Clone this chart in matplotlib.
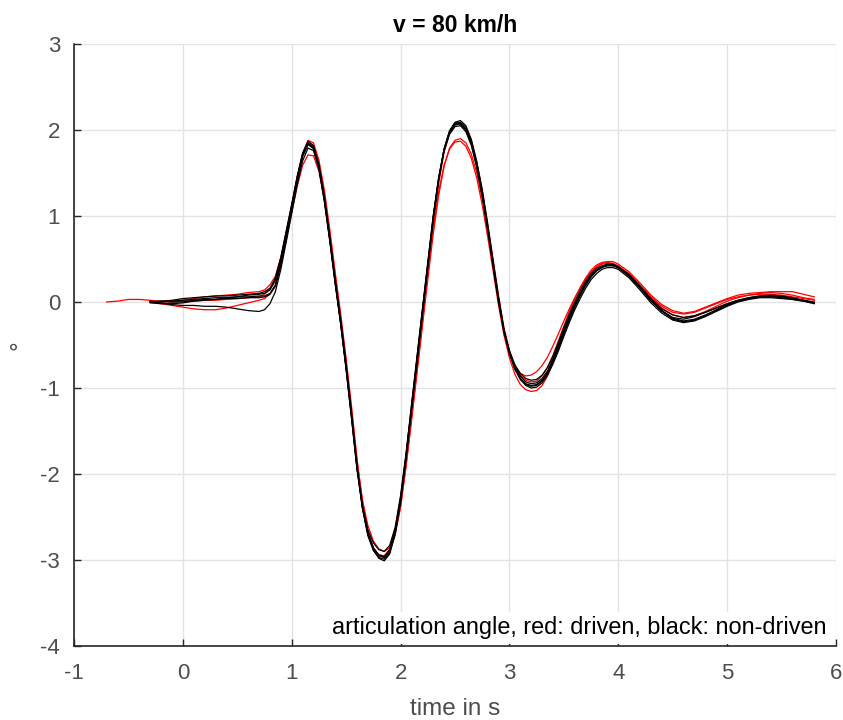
import numpy as np
import matplotlib
matplotlib.use("Agg")
import matplotlib.pyplot as plt

plt.rcParams['font.family'] = ['Liberation Sans', 'DejaVu Sans']

N = np.nan
time_s = [-0.7, -0.6, -0.5, -0.4, -0.3, -0.2, -0.1, 0.0, 0.1, 0.2, 0.3, 0.4, 0.5, 0.6, 0.7,
          0.75, 0.80, 0.85, 0.90, 0.95, 1.00, 1.05, 1.10, 1.15, 1.20, 1.25, 1.30, 1.35, 1.40, 1.45,
          1.50, 1.55, 1.60, 1.65, 1.70, 1.75, 1.80, 1.85, 1.90, 1.95, 2.00, 2.05, 2.10, 2.15, 2.20,
          2.25, 2.30, 2.35, 2.40, 2.45, 2.50, 2.55, 2.60, 2.65, 2.70, 2.75, 2.80, 2.85, 2.90, 2.95,
          3.00, 3.05, 3.10, 3.15, 3.20, 3.25, 3.30, 3.35, 3.40, 3.45, 3.50, 3.55, 3.60, 3.65, 3.70,
          3.75, 3.80, 3.85, 3.90, 3.95, 4.00,
          4.1, 4.2, 4.3, 4.4, 4.5, 4.6, 4.7, 4.8, 4.9, 5.0, 5.1, 5.2, 5.3, 5.4, 5.5, 5.6, 5.7, 5.8]

# non-driven (black)
black_1 = [N, N, N, N, 0.00, 0.00, 0.01, 0.02, 0.03, 0.04, 0.05, 0.05, 0.06, 0.06, 0.07,
           0.07, 0.10, 0.20, 0.45, 0.77, 1.10, 1.43, 1.70, 1.84, 1.78, 1.55, 1.17, 0.70, 0.20, -0.25,
           -0.78, -1.35, -1.95, -2.40, -2.70, -2.86, -2.95, -2.97, -2.88, -2.65, -2.28, -1.78, -1.20, -0.65, -0.10,
           0.45, 1.00, 1.45, 1.78, 1.98, 2.07, 2.08, 2.01, 1.85, 1.58, 1.25, 0.85, 0.42, 0.00, -0.35,
           -0.58, -0.75, -0.86, -0.93, -0.95, -0.94, -0.89, -0.80, -0.66, -0.50, -0.33, -0.17, -0.03, 0.10, 0.22,
           0.31, 0.37, 0.41, 0.43, 0.43, 0.40,
           0.30, 0.16, 0.01, -0.10, -0.18, -0.20, -0.17, -0.12, -0.07, -0.02, 0.02, 0.05, 0.07, 0.07, 0.06, 0.04, 0.02, 0.00]
black_2 = [N, N, N, N, -0.01, -0.02, -0.02, -0.01, 0.01, 0.02, 0.03, 0.05, 0.06, 0.08, 0.09,
           0.10, 0.14, 0.25, 0.50, 0.80, 1.12, 1.45, 1.73, 1.87, 1.82, 1.60, 1.23, 0.76, 0.26, -0.20,
           -0.72, -1.30, -1.90, -2.38, -2.70, -2.88, -2.98, -3.01, -2.93, -2.70, -2.33, -1.83, -1.27, -0.72, -0.16,
           0.40, 0.96, 1.42, 1.77, 1.99, 2.09, 2.11, 2.05, 1.89, 1.63, 1.30, 0.90, 0.47, 0.05, -0.32,
           -0.58, -0.77, -0.89, -0.96, -0.98, -0.97, -0.92, -0.83, -0.70, -0.54, -0.37, -0.21, -0.06, 0.07, 0.19,
           0.29, 0.36, 0.40, 0.42, 0.42, 0.40,
           0.31, 0.18, 0.03, -0.10, -0.20, -0.23, -0.21, -0.16, -0.10, -0.04, 0.01, 0.04, 0.06, 0.07, 0.06, 0.04, 0.02, -0.01]
black_3 = [N, N, N, N, 0.01, -0.01, -0.03, -0.04, -0.04, -0.05, -0.05, -0.06, -0.08, -0.10, -0.11,
           -0.09, -0.02, 0.12, 0.38, 0.70, 1.03, 1.36, 1.64, 1.79, 1.76, 1.55, 1.18, 0.72, 0.22, -0.26,
           -0.79, -1.36, -1.94, -2.37, -2.65, -2.80, -2.88, -2.90, -2.83, -2.62, -2.25, -1.76, -1.21, -0.65, -0.09,
           0.46, 1.00, 1.44, 1.76, 1.95, 2.04, 2.05, 1.98, 1.82, 1.56, 1.23, 0.84, 0.42, 0.01, -0.34,
           -0.57, -0.73, -0.83, -0.89, -0.91, -0.90, -0.85, -0.76, -0.63, -0.47, -0.30, -0.14, 0.00, 0.13, 0.24,
           0.33, 0.39, 0.42, 0.44, 0.44, 0.41,
           0.32, 0.18, 0.04, -0.08, -0.15, -0.18, -0.16, -0.12, -0.07, -0.02, 0.02, 0.05, 0.07, 0.08, 0.07, 0.05, 0.02, -0.01]
black_4 = [N, N, N, N, 0.00, 0.01, 0.02, 0.04, 0.05, 0.06, 0.07, 0.07, 0.08, 0.09, 0.10,
           0.12, 0.16, 0.28, 0.52, 0.83, 1.14, 1.46, 1.72, 1.85, 1.80, 1.58, 1.21, 0.74, 0.24, -0.23,
           -0.75, -1.32, -1.92, -2.39, -2.69, -2.86, -2.94, -2.96, -2.88, -2.66, -2.30, -1.80, -1.24, -0.68, -0.12,
           0.43, 0.98, 1.43, 1.77, 1.97, 2.06, 2.07, 2.00, 1.84, 1.59, 1.27, 0.88, 0.46, 0.04, -0.33,
           -0.59, -0.78, -0.90, -0.97, -1.00, -0.99, -0.94, -0.85, -0.72, -0.57, -0.40, -0.24, -0.09, 0.04, 0.16,
           0.26, 0.33, 0.38, 0.40, 0.40, 0.38,
           0.28, 0.14, -0.01, -0.13, -0.21, -0.24, -0.22, -0.17, -0.11, -0.05, 0.00, 0.03, 0.05, 0.05, 0.04, 0.03, 0.01, -0.02]
black_5 = [N, N, N, N, 0.00, 0.01, 0.00, 0.00, 0.02, 0.03, 0.03, 0.04, 0.04, 0.05, 0.05,
           0.06, 0.09, 0.19, 0.44, 0.76, 1.08, 1.41, 1.69, 1.83, 1.79, 1.57, 1.20, 0.73, 0.23, -0.24,
           -0.77, -1.34, -1.93, -2.40, -2.72, -2.89, -2.97, -2.99, -2.91, -2.69, -2.31, -1.81, -1.25, -0.69, -0.13,
           0.42, 0.97, 1.43, 1.78, 1.99, 2.08, 2.09, 2.03, 1.87, 1.61, 1.28, 0.88, 0.45, 0.03, -0.34,
           -0.60, -0.78, -0.89, -0.95, -0.97, -0.96, -0.91, -0.82, -0.68, -0.52, -0.35, -0.19, -0.04, 0.09, 0.21,
           0.30, 0.37, 0.41, 0.43, 0.43, 0.40,
           0.30, 0.17, 0.02, -0.11, -0.19, -0.22, -0.20, -0.15, -0.09, -0.03, 0.01, 0.04, 0.06, 0.06, 0.05, 0.03, 0.01, -0.01]

# driven (red)
red_1 = [0.00, 0.01, 0.03, 0.03, 0.02, 0.01, 0.01, 0.02, 0.04, 0.06, 0.07, 0.08, 0.09, 0.11, 0.12,
         0.14, 0.20, 0.30, 0.52, 0.82, 1.12, 1.45, 1.73, 1.88, 1.85, 1.65, 1.30, 0.84, 0.34, -0.14,
         -0.66, -1.22, -1.82, -2.33, -2.67, -2.86, -2.95, -2.97, -2.91, -2.71, -2.38, -1.90, -1.36, -0.80, -0.24,
         0.33, 0.89, 1.37, 1.74, 1.96, 2.06, 2.07, 2.02, 1.88, 1.63, 1.31, 0.92, 0.50, 0.08, -0.30,
         -0.56, -0.74, -0.85, -0.91, -0.93, -0.92, -0.86, -0.76, -0.62, -0.45, -0.28, -0.11, 0.04, 0.17, 0.28,
         0.37, 0.43, 0.46, 0.47, 0.47, 0.44,
         0.35, 0.22, 0.08, -0.03, -0.10, -0.13, -0.11, -0.06, -0.01, 0.04, 0.08, 0.10, 0.11, 0.12, 0.12, 0.12, 0.09, 0.06]
red_2 = [N, N, N, N, 0.00, -0.02, -0.04, -0.06, -0.08, -0.09, -0.09, -0.07, -0.04, -0.01, 0.02,
         0.04, 0.09, 0.18, 0.42, 0.73, 1.04, 1.34, 1.59, 1.71, 1.70, 1.52, 1.18, 0.73, 0.24, -0.25,
         -0.76, -1.30, -1.86, -2.30, -2.60, -2.78, -2.87, -2.90, -2.86, -2.70, -2.38, -1.92, -1.39, -0.84, -0.29,
         0.26, 0.79, 1.24, 1.58, 1.79, 1.88, 1.90, 1.85, 1.72, 1.50, 1.20, 0.83, 0.42, 0.00, -0.38,
         -0.65, -0.84, -0.96, -1.02, -1.04, -1.03, -0.97, -0.86, -0.71, -0.53, -0.34, -0.16, 0.00, 0.14, 0.26,
         0.35, 0.41, 0.45, 0.46, 0.45, 0.42,
         0.33, 0.20, 0.06, -0.05, -0.12, -0.14, -0.12, -0.07, -0.02, 0.03, 0.06, 0.08, 0.09, 0.09, 0.08, 0.06, 0.04, 0.02]
red_3 = [N, N, N, N, 0.00, 0.00, 0.00, 0.01, 0.01, 0.02, 0.02, 0.03, 0.04, 0.05, 0.06,
         0.09, 0.15, 0.26, 0.50, 0.80, 1.11, 1.43, 1.70, 1.84, 1.81, 1.61, 1.26, 0.80, 0.30, -0.18,
         -0.70, -1.26, -1.86, -2.35, -2.68, -2.86, -2.94, -2.95, -2.88, -2.68, -2.34, -1.86, -1.32, -0.77, -0.22,
         0.33, 0.85, 1.28, 1.59, 1.78, 1.86, 1.87, 1.81, 1.67, 1.44, 1.13, 0.76, 0.36, -0.04, -0.38,
         -0.61, -0.75, -0.83, -0.86, -0.85, -0.81, -0.74, -0.64, -0.51, -0.37, -0.22, -0.08, 0.05, 0.16, 0.26,
         0.34, 0.40, 0.44, 0.45, 0.44, 0.41,
         0.32, 0.19, 0.05, -0.07, -0.15, -0.18, -0.16, -0.11, -0.05, 0.01, 0.05, 0.08, 0.10, 0.11, 0.10, 0.08, 0.05, 0.03]

black_series = [black_1, black_2, black_3, black_4, black_5]
red_series = [red_1, red_2, red_3]

x_ticks = [-1, 0, 1, 2, 3, 4, 5, 6]
y_ticks = [-4, -3, -2, -1, 0, 1, 2, 3]

fig = plt.figure(figsize=(8.43, 7.2), dpi=100)
ax = fig.add_axes([74 / 843, 1 - 646 / 720, (836 - 74) / 843, (646 - 44) / 720])

t = np.array(time_s, dtype=float)
for s in red_series:
    ax.plot(t, np.array(s, dtype=float), color='#ff0000', lw=0.9, zorder=4)
for s in black_series:
    ax.plot(t, np.array(s, dtype=float), color='#000000', lw=0.9, zorder=5)

ax.set_xlim(-1, 6)
ax.set_ylim(-4, 3)
ax.set_xticks(x_ticks)
ax.set_yticks(y_ticks)
ax.set_xticklabels([str(v) for v in x_ticks])
ax.set_yticklabels([str(v) for v in y_ticks])
ax.grid(True, color='#e3e3e3', lw=1.0)
ax.set_axisbelow(True)
for side in ['top', 'right']:
    ax.spines[side].set_visible(False)
for side in ['left', 'bottom']:
    ax.spines[side].set_color('#262626')
    ax.spines[side].set_linewidth(1.2)
ax.tick_params(direction='in', length=5, width=1.0, color='#262626',
               labelcolor='#4d4d4d', labelsize=16, pad=10)
ax.tick_params(axis='x', pad=12)

ax.set_title('v = 80 km/h', fontsize=16.5, fontweight='bold', color='black', pad=9)
ax.set_xlabel('time in s', fontsize=17.5, color='#4d4d4d', labelpad=10)
ax.set_ylabel('°', fontsize=17.5, color='#4d4d4d', rotation=90, labelpad=6)

ax.text(0.988, 0.03, 'articulation angle, red: driven, black: non-driven',
        transform=ax.transAxes, ha='right', va='center', fontsize=16.9, color='black',
        bbox=dict(facecolor='white', edgecolor='none', pad=3), zorder=3)

fig.savefig('out.png', dpi=100)
